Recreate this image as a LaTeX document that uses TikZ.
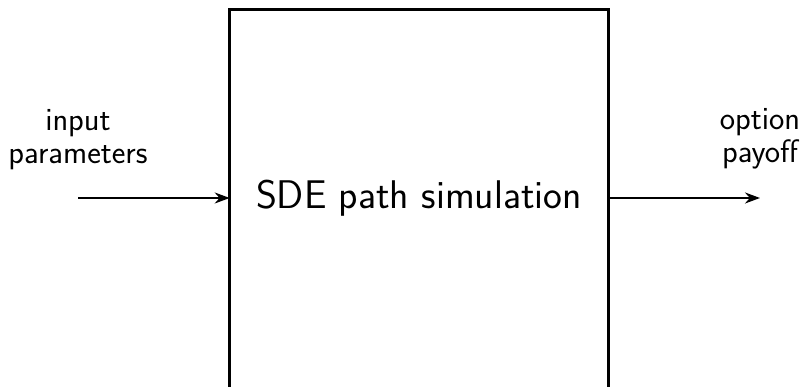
\documentclass[tikz,border=0pt]{standalone}
\usepackage{tikz}
\usetikzlibrary{positioning}
\usetikzlibrary{arrows.meta}
\tikzset{every picture/.style={semithick, >={Stealth[length=15pt, width=11pt]}}}

\begin{document}
\begin{tikzpicture}[x=1pt, y=1pt, font=\sffamily,
        lbl/.style={align=center, font=\sffamily\fontsize{32.5}{33}\selectfont},
        flow/.style={->, line width=2pt}]
        \useasboundingbox (0,0) rectangle (801,387);
        \node[minimum width=378pt, minimum height=377pt, font=\sffamily\fontsize{40}{46}\selectfont] (sim) at (419,189) {SDE path simulation};
        % frame, open at the bottom edge of the page
        \draw[line width=3pt] ([yshift=-8pt]sim.south west) |- (sim.north east) -- ([yshift=-8pt]sim.south east);
        \coordinate (in) at (78,189);
        \coordinate (out) at (760,189);
        \draw[flow] (in) -- (sim.west);
        \draw[flow] (sim.east) -- (out);
        \node[lbl, above=25pt of in] (inlbl) {input\\parameters};
        \node[lbl, above=25pt of out] (outlbl) {option\\payoff};
    \end{tikzpicture}
\end{document}
